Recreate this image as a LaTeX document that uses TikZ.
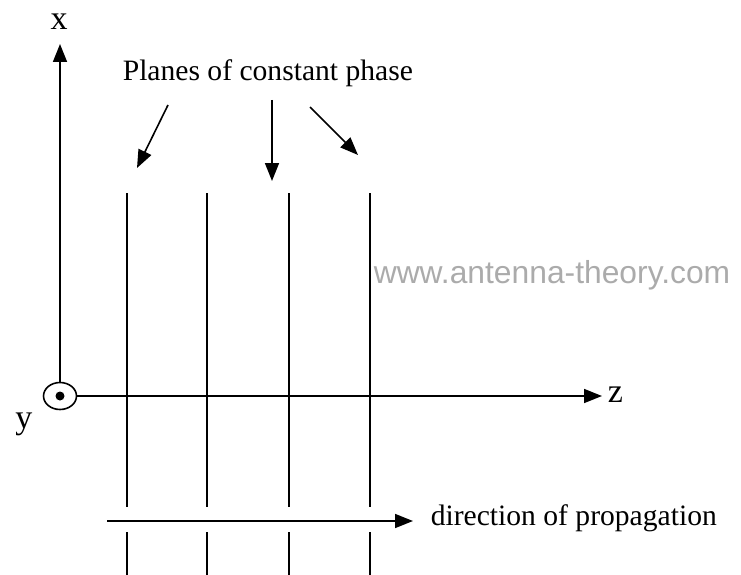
\documentclass[tikz,border=0pt]{standalone}
\usepackage{fontspec}
\setmainfont{Liberation Serif}
\newfontfamily\webfont{Liberation Sans}
\usetikzlibrary{arrows.meta,shapes.geometric}

\begin{document}
\begin{tikzpicture}[x=1pt,y=-1pt,line width=1.6pt,
  tip/.style={-{Triangle[length=18pt,width=14pt]}},
  txt/.style={font=\fontsize{29.6}{34}\selectfont,inner sep=0pt},
  axlbl/.style={font=\fontsize{34}{40}\selectfont,inner sep=0pt,anchor=base}]
\useasboundingbox (0,0) rectangle (741,575);
% axes
\node[ellipse,draw,minimum width=33pt,minimum height=27pt,inner sep=0pt] (orig) at (60,396) {};
\fill (orig.center) circle (4.5);
\coordinate (xtip) at (60,44);
\coordinate (ztip) at (602,396);
\draw[tip] (orig.north) -- (xtip);
\draw[tip] (orig.east) -- (ztip);
\node[axlbl] (xlbl) at (59,30) {x};
\node[axlbl] (ylbl) at (24,428) {y};
\node[axlbl,anchor=base west] (zlbl) at (607,402) {z};
% planes of constant phase
\foreach \p/\x in {a/127,b/207,c/289,d/370}
{
    \coordinate (\p top) at (\x,193);
    \coordinate (\p up) at (\x,507);
    \coordinate (\p lo) at (\x,532);
    \coordinate (\p bot) at (\x,575);
    \draw (\p top) -- (\p up);
    \draw (\p lo) -- (\p bot);
}
\node[txt,anchor=base west] (planes) at (122,81) {Planes of constant phase};
\coordinate (p1) at (168,105);
\coordinate (q1) at (137,168);
\coordinate (p2) at (272,100);
\coordinate (q2) at (272,181);
\coordinate (p3) at (310,107);
\coordinate (q3) at (358,155);
\draw[tip] (p1) -- (q1);
\draw[tip] (p2) -- (q2);
\draw[tip] (p3) -- (q3);
% watermark
\node[inner sep=0pt,anchor=base west,text=black!33,font=\webfont\fontsize{31.8}{36}\selectfont] (web) at (373,283) {www.antenna-theory.com};
% propagation
\coordinate (dstart) at (107,521);
\coordinate (dtip) at (413,521);
\node[txt,anchor=base west] (dir) at (430,525) {direction of propagation};
\draw[tip] (dstart) -- (dtip);
\end{tikzpicture}
\end{document}
